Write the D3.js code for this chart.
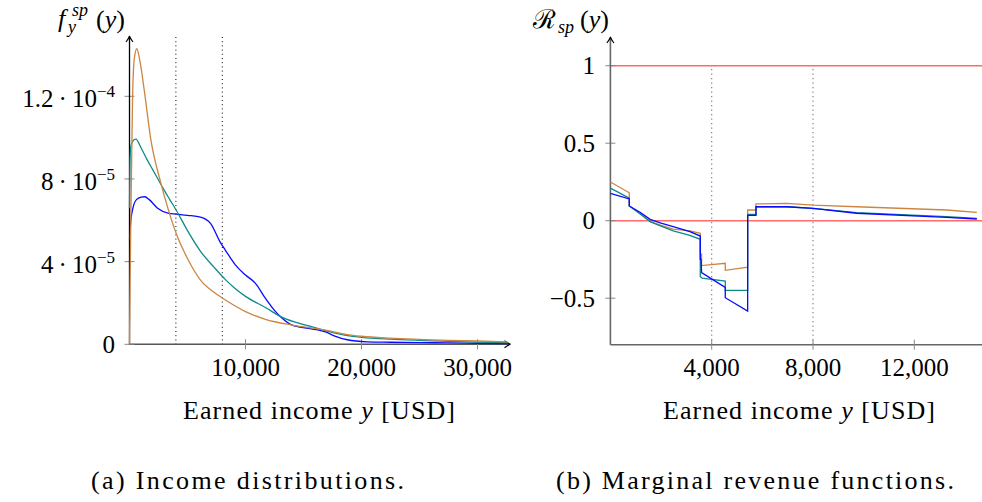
<!DOCTYPE html>
<html><head><meta charset="utf-8">
<script src="https://cdn.jsdelivr.net/npm/d3@7"></script>
<style>
body{margin:0;background:#fff}
svg{display:block}
svg text{font-family:"Liberation Serif","DejaVu Serif","Noto Serif",FreeSerif,Tinos,serif;}
</style>
</head><body>
<svg id="c" width="982" height="502"></svg>
<script>
// ---------- Panel (a): income densities (values in 1e-5) ----------
const densOrangeX = [0,50,115,260,400,630,900,1270,1840,2670,3300,4020,5000,6120,7200,8270,10000,11720,14020,16900,18770,20000,22500,25000,27500,30000,32600];
const densOrangeY = [0,3,6,11.8,13.75,14.3,13.7,12.3,9.9,7.87,6.6,5.37,4.15,3.11,2.55,2.14,1.58,1.21,0.93,0.69,0.47,0.39,0.3,0.24,0.19,0.16,0.12];
const densTealX = [0,40,120,300,545,1000,1500,2000,2500,3000,3500,4020,5000,6120,7300,8270,9000,10000,11720,13160,15460,16900,18770,20000,22500,25000,27500,30000,32600];
const densTealY = [6.6,8.8,9.6,9.85,9.93,9.5,8.95,8.45,7.95,7.45,6.98,6.5,5.5,4.5,3.72,3.13,2.75,2.32,1.78,1.3,0.89,0.66,0.42,0.34,0.25,0.19,0.14,0.11,0.08];
const densBlueX = [0,100,300,600,1000,1320,1700,2390,3390,4020,5000,6120,6980,7840,8270,9140,10000,10860,11720,12590,13160,14020,15460,16900,17700,18770,20490,22500,25000,27500,30000,32600];
const densBlueY = [5.05,5.9,6.6,7.0,7.12,7.14,7.0,6.6,6.34,6.3,6.24,6.15,5.85,4.92,4.55,3.83,3.35,2.95,2.22,1.58,1.26,0.93,0.77,0.6,0.4,0.22,0.12,0.1,0.08,0.07,0.05,0.03];
const densTicksY = [0, 4, 8, 12];          // in 1e-5
const densTicksX = [10000, 20000, 30000];
const densGuides = [4000, 8000];

// ---------- Panel (b): marginal revenue functions ----------
const revOrangeX = [0,746,746,1170,1570,2000,2480,3140,3549,3549,3600,3600,4536,4536,5420,5420,5748,5748,6960,8000,9720,13280,14470];
const revOrangeY = [0.25,0.18,0.095,0.045,-0.006,-0.03,-0.055,-0.066,-0.081,-0.215,-0.215,-0.29,-0.275,-0.32,-0.30,0.069,0.069,0.108,0.112,0.10,0.09,0.069,0.054];
const revTealX = [0,746,746,1170,1570,2000,2480,3140,3549,3549,3620,4536,4536,5420,5420,5748,5748,6960,8000,9720,13280,14470];
const revTealY = [0.21,0.145,0.095,0.045,-0.006,-0.035,-0.065,-0.094,-0.12,-0.36,-0.37,-0.39,-0.45,-0.45,0.04,0.04,0.09,0.09,0.08,0.052,0.026,0.015];
const revBlueX = [0,746,746,1170,1570,2000,2480,3140,3549,3549,3580,3600,4536,4536,5420,5420,5748,5748,6960,8000,9720,13280,14470];
const revBlueY = [0.177,0.14,0.095,0.055,0.009,-0.015,-0.039,-0.071,-0.099,-0.25,-0.25,-0.335,-0.43,-0.497,-0.583,0.035,0.035,0.09,0.09,0.08,0.048,0.022,0.011];
const revTicksY = [-0.5, 0, 0.5, 1];
const revTicksX = [4000, 8000, 12000];
const revGuides = [4000, 8000];
const revRefLines = [0, 1];

const cOrange = "#cc8642", cTeal = "#0d8a8a", cBlue = "#0a0aff", cRed = "#ff6a6a";

const svg = d3.select("#c");
const fmtX = d3.format(",");
function txt(g, x, y, size){
  return g.append("text").attr("x",x).attr("y",y).attr("font-size",size).attr("fill","#000");
}
function fitted(g, x0, x1, y, size){
  return txt(g, x0, y, size).attr("textLength", x1 - x0).attr("lengthAdjust","spacing");
}

function arrowUp(g, x, y, color){
  g.append("path").attr("d",`M${x-3.5},${y+6} Q${x-0.5},${y+2} ${x},${y} Q${x+0.5},${y+2} ${x+3.5},${y+6}`)
   .attr("fill","none").attr("stroke",color).attr("stroke-width",1.1);
}
function arrowRight(g, x, y, color){
  g.append("path").attr("d",`M${x-6},${y-3.5} Q${x-2},${y-0.5} ${x},${y} Q${x-2},${y+0.5} ${x-6},${y+3.5}`)
   .attr("fill","none").attr("stroke",color).attr("stroke-width",1.1);
}

// ================= Panel (a) =================
{
  const x = d3.scaleLinear().domain([0, 32800]).range([129.5, 510]);
  const y = d3.scaleLinear().domain([0, 12]).range([344.3, 96.3]);
  const g = svg.append("g");

  densGuides.forEach(v => g.append("line").attr("x1",x(v)).attr("x2",x(v)).attr("y1",37).attr("y2",y(0))
    .attr("stroke","#000").attr("stroke-width",1).attr("stroke-dasharray","1,3.2"));

  g.append("line").attr("x1",x(0)).attr("x2",x.range()[1]).attr("y1",y(0)).attr("y2",y(0)).attr("stroke","#555").attr("stroke-width",1.4);
  arrowRight(g, x.range()[1]+0.5, y(0), "#000");
  densTicksX.forEach(v=>{
    g.append("line").attr("x1",x(v)).attr("x2",x(v)).attr("y1",y(0)-5).attr("y2",y(0)+5).attr("stroke","#888").attr("stroke-width",1);
    txt(g, x(v), 376, 25).attr("text-anchor","middle").text(fmtX(v));
  });

  densTicksY.forEach(v=>{
    g.append("line").attr("x1",x(0)-5).attr("x2",x(0)+5).attr("y1",y(v)).attr("y2",y(v)).attr("stroke","#888").attr("stroke-width",1);
    if (v === 0) {
      txt(g, 115, y(v)+8.5, 25).attr("text-anchor","end").text("0");
    } else {
      const mant = v === 12 ? "1.2" : String(v);
      const exp = v === 12 ? "\u22124" : "\u22125";
      const t = txt(g, 115, y(v)+11, 25).attr("text-anchor","end");
      t.append("tspan").text(mant + "\u2009\u00B7\u200910");
      t.append("tspan").attr("dy",-10).attr("font-size",17).text(exp);
    }
  });

  g.append("line").attr("x1",x(0)).attr("x2",x(0)).attr("y1",y(0)).attr("y2",37).attr("stroke","#000").attr("stroke-width",1.3);
  arrowUp(g, x(0), 36, "#000");

  const line = d3.line().x(d=>x(d[0])).y(d=>y(d[1])).curve(d3.curveMonotoneX);
  [[densBlueX,densBlueY,cBlue],[densTealX,densTealY,cTeal],[densOrangeX,densOrangeY,cOrange]].forEach(([xs,ys,c])=>{
    g.append("path").datum(xs.map((v,i)=>[v,ys[i]])).attr("d",line).attr("fill","none").attr("stroke",c).attr("stroke-width",1.3);
  });

  txt(g, 58, 27, 26).attr("font-style","italic").text("f");
  txt(g, 72, 16, 18).attr("font-style","italic").text("sp");
  txt(g, 68, 33, 18).attr("font-style","italic").text("y");
  const t2 = txt(g, 96, 28, 26);
  t2.append("tspan").text("(");
  t2.append("tspan").attr("font-style","italic").text("y");
  t2.append("tspan").text(")");

  const xt = fitted(g, 183, 455, 419, 26);
  xt.append("tspan").text("Earned income ");
  xt.append("tspan").attr("font-style","italic").text("y");
  xt.append("tspan").text(" [USD]");

  fitted(g, 91, 404, 489, 26).text("(a) Income distributions.");
}

// ================= Panel (b) =================
{
  const x = d3.scaleLinear().domain([0, 4000]).range([610.4, 711.7]);
  const y = d3.scaleLinear().domain([0, 1]).range([220.7, 65.7]);
  const g = svg.append("g");
  const yBottom = y(-0.8);

  revGuides.forEach(v => g.append("line").attr("x1",x(v)).attr("x2",x(v)).attr("y1",69).attr("y2",yBottom)
    .attr("stroke","#777").attr("stroke-width",1.1).attr("stroke-dasharray","1.3,3.2"));

  revRefLines.forEach(v => g.append("line").attr("x1",x(0)).attr("x2",982).attr("y1",y(v)).attr("y2",y(v))
    .attr("stroke",cRed).attr("stroke-width",1.6));

  g.append("line").attr("x1",x(0)).attr("x2",982).attr("y1",yBottom).attr("y2",yBottom).attr("stroke","#666").attr("stroke-width",1.6);
  revTicksX.forEach(v=>{
    g.append("line").attr("x1",x(v)).attr("x2",x(v)).attr("y1",yBottom-5).attr("y2",yBottom+5).attr("stroke","#888").attr("stroke-width",1);
    txt(g, x(v), 376, 25).attr("text-anchor","middle").text(fmtX(v));
  });

  revTicksY.forEach(v=>{
    g.append("line").attr("x1",x(0)-5).attr("x2",x(0)+5).attr("y1",y(v)).attr("y2",y(v)).attr("stroke","#888").attr("stroke-width",1);
    txt(g, 595, y(v)+8.5, 25).attr("text-anchor","end").text(v < 0 ? "\u2212" + Math.abs(v) : String(v));
  });

  g.append("line").attr("x1",x(0)).attr("x2",x(0)).attr("y1",yBottom).attr("y2",38).attr("stroke","#666").attr("stroke-width",1.6);
  arrowUp(g, x(0), 37, "#000");

  const line = d3.line().x(d=>x(d[0])).y(d=>y(d[1]));
  [[revOrangeX,revOrangeY,cOrange],[revTealX,revTealY,cTeal],[revBlueX,revBlueY,cBlue]].forEach(([xs,ys,c])=>{
    g.append("path").datum(xs.map((v,i)=>[v,ys[i]])).attr("d",line).attr("fill","none").attr("stroke",c).attr("stroke-width",1.3);
  });

  txt(g, 533, 28, 26).text("\u211B");
  txt(g, 558, 33, 18).attr("font-style","italic").text("sp");
  const t2 = txt(g, 580, 28, 26);
  t2.append("tspan").text("(");
  t2.append("tspan").attr("font-style","italic").text("y");
  t2.append("tspan").text(")");

  const xt = fitted(g, 663, 935, 419, 26);
  xt.append("tspan").text("Earned income ");
  xt.append("tspan").attr("font-style","italic").text("y");
  xt.append("tspan").text(" [USD]");

  fitted(g, 556, 954, 489, 26).text("(b) Marginal revenue functions.");
}
</script>
</body></html>
